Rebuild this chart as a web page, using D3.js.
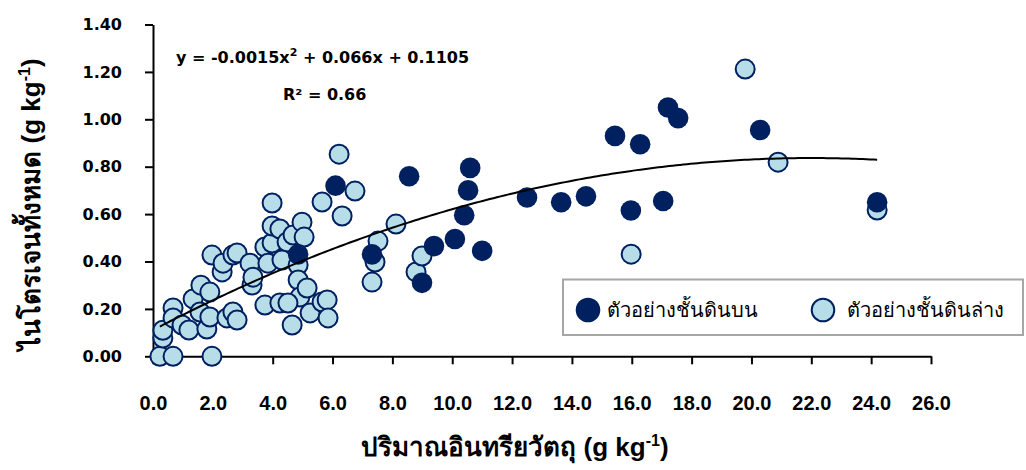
<!DOCTYPE html>
<html>
<head>
<meta charset="utf-8">
<script src="https://cdn.jsdelivr.net/npm/d3@7"></script>
<style>
  body { margin: 0; background: #fff; }
  svg { display: block; }
</style>
</head>
<body>
<svg id="chart" width="1026" height="470"></svg>
<script>
// Organic matter (g/kg) vs total nitrogen (g/kg)

// Topsoil samples
const topX = [6.1, 4.85, 7.32, 8.56, 8.99, 9.39, 10.09, 10.4, 10.53, 10.6, 11.0, 12.5, 13.64, 14.47, 15.44, 15.97, 16.28, 17.05, 17.21, 17.55, 20.29, 24.2];
const topY = [0.72, 0.43, 0.43, 0.76, 0.31, 0.465, 0.495, 0.595, 0.70, 0.795, 0.445, 0.67, 0.65, 0.675, 0.93, 0.615, 0.895, 0.655, 1.05, 1.005, 0.955, 0.65];

// Subsoil samples
const subX = [0.23, 0.67, 1.97, 0.33, 0.33, 0.67, 0.67, 0.97, 1.2, 1.34, 1.57, 1.6, 1.8, 1.9, 1.9, 1.97, 2.31, 2.34, 2.47, 2.67, 2.81, 2.67, 2.81, 3.24, 3.31, 3.34, 3.74, 3.74, 3.98, 3.98, 3.98, 4.24, 4.48, 4.68, 4.98, 5.05, 3.84, 4.31, 4.85, 4.85, 4.91, 5.15, 4.24, 4.51, 4.65, 5.25, 5.65, 5.82, 5.85, 5.65, 6.22, 6.75, 6.32, 7.32, 7.42, 7.52, 8.12, 8.79, 8.99, 15.98, 19.79, 20.89, 24.2];
const subY = [0.0, 0.0, 0.0, 0.077, 0.11, 0.204, 0.162, 0.132, 0.111, 0.242, 0.187, 0.30, 0.115, 0.166, 0.271, 0.427, 0.356, 0.393, 0.162, 0.187, 0.153, 0.427, 0.436, 0.393, 0.301, 0.334, 0.216, 0.461, 0.478, 0.647, 0.55, 0.537, 0.482, 0.512, 0.566, 0.503, 0.393, 0.406, 0.385, 0.322, 0.25, 0.288, 0.225, 0.225, 0.132, 0.183, 0.229, 0.238, 0.162, 0.651, 0.853, 0.697, 0.592, 0.313, 0.398, 0.486, 0.558, 0.356, 0.423, 0.431, 1.212, 0.819, 0.617];

// Quadratic fit: y = a x^2 + b x + c
const fitA = -0.0015, fitB = 0.066, fitC = 0.1105;
const fitR2 = 0.66;

const xTicks = [0, 2, 4, 6, 8, 10, 12, 14, 16, 18, 20, 22, 24, 26];
const yTicks = [0, 0.2, 0.4, 0.6, 0.8, 1.0, 1.2, 1.4];

const legendLabels = ["ตัวอย่างชั้นดินบน", "ตัวอย่างชั้นดินล่าง"];
const xTitle = "ปริมาณอินทรียวัตถุ (g kg";
const yTitle = "ไนโตรเจนทั้งหมด (g kg";

const NAVY = "#002060";
const LIGHT = "#b7dee8";

const svg = d3.select("#chart");

const x = d3.scaleLinear().domain([0, 26]).range([153, 931]);
const y = d3.scaleLinear().domain([0, 1.4]).range([356.3, 24.5]);

// Axes
const yAxis = d3.axisLeft(y).tickValues(yTicks).tickFormat(d3.format(".2f"))
  .tickSizeInner(8).tickSizeOuter(0).tickPadding(23);
const xAxis = d3.axisBottom(x).tickValues(xTicks).tickFormat(d3.format(".1f"))
  .tickSizeInner(8).tickSizeOuter(0).tickPadding(32);

const gx = svg.append("g").attr("transform", `translate(0,${y(0)})`).call(xAxis);
gx.selectAll("text")
  .attr("font-family", "'Liberation Sans', Arial, sans-serif")
  .attr("font-weight", "bold").attr("font-size", 20).attr("fill", "#000");

const gy = svg.append("g").attr("transform", `translate(${x(0)},0)`).call(yAxis);
gy.selectAll("text")
  .attr("font-family", "'DejaVu Sans', sans-serif")
  .attr("font-weight", "bold").attr("font-size", 16).attr("fill", "#000");

svg.selectAll(".domain, .tick line").attr("stroke", "#000").attr("stroke-width", 2);

// Subsoil points first, topsoil drawn over them
svg.append("g").selectAll("circle")
  .data(subX.map((v, i) => [v, subY[i]]))
  .join("circle")
  .attr("cx", d => x(d[0])).attr("cy", d => y(d[1])).attr("r", 9.5)
  .attr("fill", LIGHT).attr("stroke", NAVY).attr("stroke-width", 2);

svg.append("g").selectAll("circle")
  .data(topX.map((v, i) => [v, topY[i]]))
  .join("circle")
  .attr("cx", d => x(d[0])).attr("cy", d => y(d[1])).attr("r", 10.3)
  .attr("fill", NAVY);

// Trend line over the sampled range
const allX = topX.concat(subX);
const [x0, x1] = d3.extent(allX);
const lineData = d3.range(0, 201).map(i => {
  const t = x0 + (x1 - x0) * i / 200;
  return [t, fitA * t * t + fitB * t + fitC];
});
svg.append("path")
  .datum(lineData)
  .attr("d", d3.line().x(d => x(d[0])).y(d => y(d[1])))
  .attr("fill", "none").attr("stroke", "#000").attr("stroke-width", 2);

// Equation and R²
const eq = svg.append("text")
  .attr("x", 176).attr("y", 63)
  .attr("font-family", "'DejaVu Sans', sans-serif")
  .attr("font-weight", "bold").attr("font-size", 16).attr("fill", "#000");
eq.append("tspan").text(`y = ${fitA}x`);
eq.append("tspan").attr("dy", -7).attr("font-size", 11).text("2");
eq.append("tspan").attr("dy", 7).text(` + ${fitB}x + ${fitC}`);

svg.append("text")
  .attr("x", 283).attr("y", 100)
  .attr("font-family", "'DejaVu Sans', sans-serif")
  .attr("font-weight", "bold").attr("font-size", 16).attr("fill", "#000")
  .text(`R² = ${fitR2}`);

// Axis titles
const titleFont = "'Liberation Sans', Arial, 'Noto Sans', sans-serif";
const xt = svg.append("text")
  .attr("x", 515).attr("y", 456).attr("text-anchor", "middle")
  .attr("font-family", titleFont).attr("font-weight", "bold")
  .attr("font-size", 26).attr("fill", "#000");
xt.append("tspan").text(xTitle);
xt.append("tspan").attr("dy", -10).attr("font-size", 16).text("-1");
xt.append("tspan").attr("dy", 10).text(")");

const yt = svg.append("text")
  .attr("transform", "translate(39.5,204) rotate(-90)")
  .attr("text-anchor", "middle")
  .attr("font-family", titleFont).attr("font-weight", "bold")
  .attr("font-size", 26).attr("fill", "#000");
yt.append("tspan").text(yTitle);
yt.append("tspan").attr("dy", -10).attr("font-size", 16).text("-1");
yt.append("tspan").attr("dy", 10).text(")");

// Legend
const lg = svg.append("g");
lg.append("rect")
  .attr("x", 563).attr("y", 279.5).attr("width", 460).attr("height", 55.5)
  .attr("fill", "#fff").attr("stroke", "#a6a6a6").attr("stroke-width", 2);
lg.append("circle").attr("cx", 588).attr("cy", 310).attr("r", 12.3).attr("fill", NAVY);
lg.append("circle").attr("cx", 823).attr("cy", 310).attr("r", 11.3)
  .attr("fill", LIGHT).attr("stroke", NAVY).attr("stroke-width", 2);
lg.selectAll("text.lbl")
  .data(legendLabels)
  .join("text")
  .attr("class", "lbl")
  .attr("x", (d, i) => i === 0 ? 607 : 847)
  .attr("y", 317)
  .attr("font-family", "'Noto Sans', sans-serif")
  .attr("font-size", 20).attr("fill", "#000")
  .text(d => d);
</script>
</body>
</html>
